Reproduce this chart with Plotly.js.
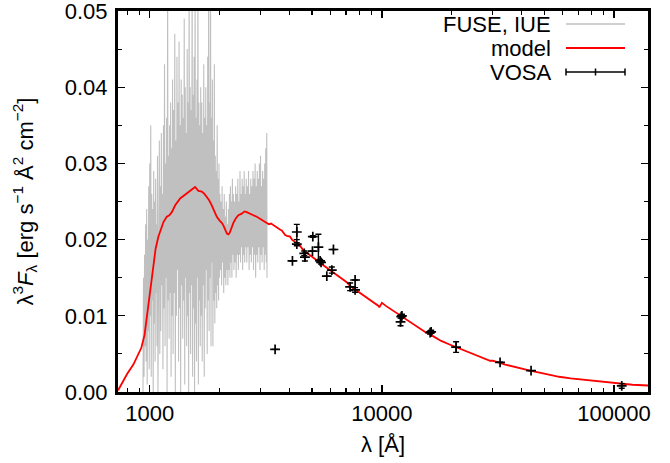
<!DOCTYPE html>
<html>
<head>
<meta charset="utf-8">
<script src="https://cdn.plot.ly/plotly-3.0.1.min.js"></script>
<style>html,body{margin:0;padding:0;background:#fff;}#plot{width:670px;height:463px;}</style>
</head>
<body>
<div id="plot"></div>
<script>
// FUSE + IUE spectrum (wavelength in Angstrom, lambda^3 F_lambda)
const specWave = [935,940,945,950,955,960,965,970,975,980,985,990,995,1000,
1005,1010,1015,1020,1025,1030,1035,1040,1045,1050,1055,1060,1065,1070,1075,1080,1085,1090,1095,1100,1105,1110,
1116,1122,1128,1134,1140,1146,1152,1158,1164,1170,1176,1182,1188,1194,1200,1206,1212,1218,1224,1230,1236,1242,1248,1254,
1261,1268,1275,1282,1289,1296,1303,1310,1317,1324,1331,1338,1345,1352,1359,1366,1373,1380,1387,1394,1401,1408,1415,1422,1429,1436,1443,1450,1457,1464,
1471,1478,1485,1493,1500,1508,1515,1523,1530,1538,1545,1553,1560,1568,1575,1583,1590,1598,1605,1613,1620,1628,1635,1643,1650,1658,
1666,1675,1683,1692,1700,1709,1717,1726,1734,1743,1751,1760,1768,1777,1785,1794,1802,1811,1819,1828,1836,1845,1853,1862,
1871,1880,1889,1898,1907,1916,1925,1934,1943,1952,1961,1970,1979,1988,1997,2006,
2017,2028,2039,2050,2061,2072,2083,2094,2105,2116,2127,2138,2149,2160,2171,2182,2193,2204,2215,2226,2237,2248,2259,2270,2281,2292,
2305,2318,2331,2344,2357,2370,2383,2396,2409,2422,2435,2448,2461,2474,2487,2500,2513,2526,2539,2552,2565,2578,2591,2604,
2619,2634,2649,2664,2679,2694,2709,2724,2739,2754,2769,2784,2799,2814,2829,2844,2859,2874,2889,2904,
2920,2936,2952,2968,2984,3000,3016,3032,3048,3064,3080,3096,3112,3128,3144,3160,3176,3192,3200];
const specFlux = [0.000,0.015,0.002,0.018,0.006,0.022,0.004,0.024,0.001,0.020,0.008,0.027,0.003,0.030,
0.010,0.035,0.002,0.026,0.012,0.024,0.000,0.029,0.009,0.025,0.004,0.028,0.013,0.022,0.006,0.031,0.000,0.024,0.011,0.033,0.005,0.027,
0.008,0.034,0.014,0.026,0.003,0.035,0.011,0.043,0.006,0.030,0.015,0.036,0.000,0.055,0.012,0.031,0.007,0.035,0.013,0.038,0.002,0.032,0.010,0.041,
0.005,0.037,0.013,0.047,0.000,0.033,0.010,0.044,0.016,0.038,0.004,0.046,0.011,0.035,0.000,0.041,0.014,0.039,0.007,0.036,0.012,0.049,0.001,0.040,0.015,0.034,0.006,0.045,0.010,0.038,
0.000,0.056,0.013,0.040,0.005,0.037,0.014,0.058,0.002,0.039,0.011,0.044,0.000,0.055,0.009,0.036,0.004,0.041,0.015,0.057,0.001,0.038,0.012,0.035,0.006,0.040,
0.010,0.038,0.004,0.034,0.014,0.043,0.002,0.036,0.011,0.040,0.016,0.035,0.005,0.044,0.012,0.058,0.008,0.038,0.015,0.056,0.006,0.036,0.017,0.041,
0.006,0.033,0.012,0.043,0.009,0.031,0.013,0.029,0.011,0.035,0.014,0.028,0.012,0.030,0.015,0.026,
0.016,0.025,0.014,0.027,0.017,0.024,0.013,0.026,0.015,0.023,0.014,0.025,0.016,0.022,0.014,0.024,0.016,0.026,0.015,0.027,0.017,0.025,0.015,0.028,0.018,0.026,
0.016,0.025,0.017,0.027,0.015,0.026,0.018,0.028,0.016,0.025,0.018,0.029,0.017,0.026,0.019,0.028,0.016,0.027,0.018,0.029,0.017,0.026,0.019,0.028,
0.017,0.027,0.019,0.029,0.016,0.026,0.018,0.028,0.017,0.027,0.019,0.029,0.016,0.028,0.018,0.030,0.015,0.027,0.018,0.029,
0.017,0.028,0.019,0.030,0.016,0.031,0.018,0.027,0.017,0.029,0.019,0.028,0.016,0.030,0.018,0.032,0.017,0.034,0.015];

// Model SED
const modelWave = [730,760,800,850,890,920,950,972,990,1004,1020,1037,1060,1090,1120,1146,1184,1215,1245,1287,1352,1420,1492,1540,1568,1600,1621,1676,1720,1760,1800,1850,1900,1945,2000,2044,2080,2112,2150,2183,2210,2235,2292,2350,2409,2491,2560,2616,2680,2751,2891,3038,3150,3260,3330,3400,3526,3650,3705,3780,3830,3900,4020,4100,4225,4440,4585,4740,5000,5240,5500,5785,6190,6500,7055,7300,7800,8600,9200,9670,9750,10000,10400,11000,11940,13000,14120,15300,16660,18000,19680,20870,23000,26000,28500,29240,30000,31000,34000,38000,43480,50000,58000,65000,71400,80000,90000,100000,107900,120000,140000];
const modelFlux = [0.0002,0.0012,0.0024,0.0036,0.0048,0.0058,0.0075,0.0099,0.0120,0.0138,0.0155,0.0169,0.0188,0.0204,0.0215,0.0223,0.0230,0.0232,0.0236,0.0245,0.0254,0.0259,0.0265,0.0268,0.0269,0.0266,0.0264,0.0263,0.0260,0.0256,0.0252,0.0245,0.0238,0.0230,0.0225,0.0222,0.0218,0.0212,0.0208,0.0207,0.0209,0.0213,0.0222,0.0228,0.0232,0.0234,0.0237,0.0236,0.0235,0.0233,0.0230,0.0226,0.0222,0.0220,0.0221,0.0219,0.0216,0.0213,0.0212,0.0209,0.0206,0.0205,0.0204,0.0200,0.0197,0.0192,0.0186,0.0183,0.0178,0.0173,0.0168,0.0163,0.0157,0.0151,0.0144,0.0139,0.0133,0.0124,0.0118,0.0113,0.0111,0.0117,0.0113,0.0108,0.0101,0.0093,0.0086,0.0079,0.0073,0.0067,0.0062,0.0059,0.0053,0.0047,0.0043,0.0041,0.0041,0.0040,0.0036,0.0032,0.0028,0.0024,0.0020,0.0018,0.00166,0.0015,0.0013,0.00115,0.00105,0.00095,0.00085];

// VOSA photometry
const vosaWave = [3467,4118,4300,4300,4630,4660,5021,5040,5328,5418,5470,5790,6085,6183,7296,7666,7666,12030,12110,12200,16130,16300,20870,32280,43900,107900];
const vosaFlux = [0.0056,0.0172,0.0210,0.0194,0.0182,0.0177,0.0185,0.0204,0.0190,0.0172,0.0170,0.0152,0.0160,0.0187,0.0138,0.0147,0.0134,0.0092,0.0099,0.0100,0.0078,0.0079,0.0059,0.0039,0.0028,0.0008];
const vosaErr  = [0,0,0.0010,0.0002,0.0003,0.0005,0,0.0001,0.0017,0.0002,0.0002,0,0.0004,0,0.0005,0,0.0003,0.0005,0.0002,0.0002,0.0002,0.0002,0.0007,0,0,0.0003];

const legendNames = ['FUSE, IUE','model','VOSA'];
const xTicks = [1000,10000,100000];
const xTickText = ['1000','10000','100000'];
const xMinorTicks = [800,900,2000,3000,4000,5000,6000,7000,8000,9000,20000,30000,40000,50000,60000,70000,80000,90000];
const yTicks = [0,0.01,0.02,0.03,0.04,0.05];
const yTickText = ['0.00','0.01','0.02','0.03','0.04','0.05'];
const yMinorTicks = [0.005,0.015,0.025,0.035,0.045];

const FONT = '"Liberation Sans", Arial, Helvetica, sans-serif';
const FS = 22;

const traces = [
  {x: specWave, y: specFlux, type:'scatter', mode:'lines', name: legendNames[0],
   line:{color:'#c0c0c0', width:1.1}, showlegend:false},
  {x: modelWave, y: modelFlux, type:'scatter', mode:'lines', name: legendNames[1],
   line:{color:'#ff0000', width:1.8}, showlegend:false},
  {x: vosaWave, y: vosaFlux, type:'scatter', mode:'markers', name: legendNames[2],
   marker:{symbol:'cross-thin', size:7, color:'#000', line:{width:1.7, color:'#000'}},
   error_y:{type:'data', array: vosaErr, visible:true, color:'#000', thickness:1.4, width:3},
   showlegend:false}
];

// legend drawn by hand (gnuplot style: text right, sample to the right)
const L = 118, R = 648, T = 11, B = 392;
const px = v => (v - L) / (R - L);
const py = v => (B - v) / (B - T);
const legY = [24, 48, 72];
const sx0 = px(566), sx1 = px(625), sxm = px(595.5);
const annotations = legendNames.map((n,i) => ({
  text: n, xref:'paper', yref:'paper', x: px(553), y: py(legY[i]), xanchor:'right', yanchor:'middle',
  showarrow:false, font:{family:FONT, size:FS, color:'#000'}
}));
const shapes = [
  {type:'line', xref:'paper', yref:'paper', x0:sx0, x1:sx1, y0:py(legY[0]), y1:py(legY[0]), line:{color:'#c0c0c0', width:1.5}},
  {type:'line', xref:'paper', yref:'paper', x0:sx0, x1:sx1, y0:py(legY[1]), y1:py(legY[1]), line:{color:'#ff0000', width:1.8}},
  {type:'line', xref:'paper', yref:'paper', x0:sx0, x1:sx1, y0:py(legY[2]), y1:py(legY[2]), line:{color:'#000', width:1.5}},
  {type:'line', xref:'paper', yref:'paper', x0:sx0, x1:sx0, y0:py(legY[2]-3.5), y1:py(legY[2]+3.5), line:{color:'#000', width:1.5}},
  {type:'line', xref:'paper', yref:'paper', x0:sx1, x1:sx1, y0:py(legY[2]-3.5), y1:py(legY[2]+3.5), line:{color:'#000', width:1.5}},
  {type:'line', xref:'paper', yref:'paper', x0:sxm, x1:sxm, y0:py(legY[2]-3.5), y1:py(legY[2]+3.5), line:{color:'#000', width:1.5}}
];

const layout = {
  width:670, height:463,
  margin:{l:L, r:670-R, t:T, b:463-B},
  paper_bgcolor:'#fff', plot_bgcolor:'#fff',
  font:{family:FONT, size:FS, color:'#000'},
  showlegend:false,
  xaxis:{
    type:'log', range:[Math.log10(730), Math.log10(140000)],
    tickmode:'array', tickvals:xTicks, ticktext:xTickText,
    ticks:'inside', ticklen:7, tickwidth:1.3, tickcolor:'#000',
    minor:{tickmode:'array', tickvals:xMinorTicks, ticks:'inside', ticklen:4, tickwidth:1.2, tickcolor:'#000', showgrid:false},
    showline:true, linecolor:'#000', linewidth:3, mirror:'allticks',
    showgrid:false, zeroline:false,
    tickfont:{family:FONT, size:FS, color:'#000'},
    ticklabeloverflow:'allow',
    title:{text:'λ [Å]', font:{family:FONT, size:FS, color:'#000'}, standoff:12}
  },
  yaxis:{
    range:[0,0.05], tickmode:'array', tickvals:yTicks, ticktext:yTickText,
    ticks:'inside', ticklen:7, tickwidth:1.3, tickcolor:'#000',
    minor:{tickmode:'array', tickvals:yMinorTicks, ticks:'inside', ticklen:4, tickwidth:1.2, tickcolor:'#000', showgrid:false},
    showline:true, linecolor:'#000', linewidth:3, mirror:'allticks',
    showgrid:false, zeroline:false,
    tickfont:{family:FONT, size:FS, color:'#000'},
    ticklabelstandoff:3, ticklabeloverflow:'allow',
    title:{text:'λ<sup>3</sup><i>F</i><sub>λ</sub> [erg s<sup>−1</sup> Å<sup>2</sup> cm<sup>−2</sup>]', font:{family:FONT, size:FS, color:'#000'}, standoff:26}
  },
  annotations: annotations,
  shapes: shapes
};

Plotly.newPlot('plot', traces, layout, {staticPlot:true, displayModeBar:false});
</script>
</body>
</html>
